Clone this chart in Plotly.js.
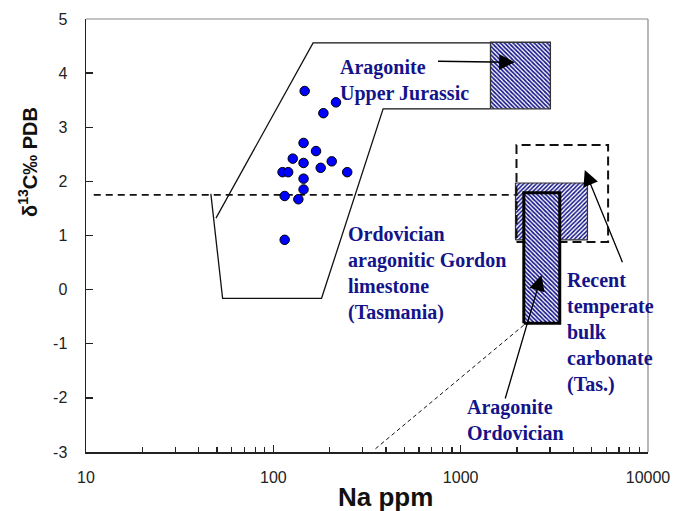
<!DOCTYPE html>
<html>
<head>
<meta charset="utf-8">
<script src="https://cdn.plot.ly/plotly-3.0.1.min.js"></script>
<style>html,body{margin:0;padding:0;background:#fff;}#chart{width:673px;height:511px;}</style>
</head>
<body>
<div id="chart"></div>
<script>
// Gordon limestone samples (Na ppm vs d13C)
const naPpm = [147, 216, 185, 145, 169, 127, 145, 205, 179, 112, 120, 248, 145, 145, 115, 136, 115];
const d13C  = [3.67, 3.46, 3.26, 2.71, 2.56, 2.42, 2.34, 2.37, 2.25, 2.17, 2.17, 2.17, 2.05, 1.85, 1.73, 1.67, 0.92];

// envelope of Ordovician aragonitic Gordon limestone
const envelopeX = [49.4, 163, 1443, null, 1443, 385.5, 180.9, 53.6, 46.4];
const envelopeY = [1.32, 4.56, 4.56, null, 3.34, 3.34, -0.16, -0.16, 1.77];

// horizontal reference line
const refLineX = [11, 1945];
const refLineY = [1.75, 1.75];

// Aragonite Upper Jurassic field
const jurassicX = [1443, 3013, 3013, 1443, 1443];
const jurassicY = [3.34, 3.34, 4.57, 4.57, 3.34];

// Recent temperate bulk carbonate: dashed range and hatched field
const recentRangeX = [1986, 6124, 6124, 1986, 1986];
const recentRangeY = [0.88, 0.88, 2.67, 2.67, 0.88];
const recentX = [1962, 4752, 4752, 1962, 1962];
const recentY = [0.92, 0.92, 1.97, 1.97, 0.92];

// Aragonite Ordovician field
const ordovicianX = [2173, 3380, 3380, 2173, 2173];
const ordovicianY = [-0.62, -0.62, 1.79, 1.79, -0.62];

// thin dashed trend line
const trendX = [351, 2199];
const trendY = [-2.94, -0.64];

// arrows (from -> to)
const arrowFromX = [743, 7358, 1720];
const arrowFromY = [4.22, 0.48, -2.04];
const arrowToX = [1945, 4596, 2700];
const arrowToY = [4.20, 2.21, 0.27];

// field labels
const labelText = [
  'Aragonite<br>Upper Jurassic',
  'Ordovician<br>aragonitic Gordon<br>limestone<br>(Tasmania)',
  'Recent<br>temperate<br>bulk<br>carbonate<br>(Tas.)',
  'Aragonite<br>Ordovician'
];
const labelX = [221, 243, 3595, 1052];
const labelY = [3.86, 0.29, -0.79, -2.40];

// axis ticks
const yTickVals = [-3, -2, -1, 0, 1, 2, 3, 4, 5];
const yTickText = ['-3', '-2', '-1', '0', '1', '2', '3', '4', '5'];

const navy = '#14148a';

const traces = [
  {x: envelopeX, y: envelopeY, mode: 'lines', line: {color: '#111', width: 1.3}, connectgaps: false, hoverinfo: 'skip'},
  {x: refLineX, y: refLineY, mode: 'lines', line: {color: '#111', width: 1.6, dash: '7px,5px'}, hoverinfo: 'skip'},
  {x: trendX, y: trendY, mode: 'lines', line: {color: '#111', width: 1, dash: '4px,3px'}, hoverinfo: 'skip'},
  {x: jurassicX, y: jurassicY, mode: 'lines', fill: 'toself', fillcolor: 'white',
   fillpattern: {shape: '\\', fgcolor: navy, bgcolor: 'white', size: 3, solidity: 0.55},
   line: {color: '#333', width: 1.3}, hoverinfo: 'skip'},
  {x: recentX, y: recentY, mode: 'lines', fill: 'toself', fillcolor: 'white',
   fillpattern: {shape: '/', fgcolor: navy, bgcolor: 'white', size: 3, solidity: 0.5},
   line: {color: '#333', width: 1.2}, hoverinfo: 'skip'},
  {x: recentRangeX, y: recentRangeY, mode: 'lines', line: {color: '#111', width: 2, dash: '9px,5px'}, hoverinfo: 'skip'},
  {x: ordovicianX, y: ordovicianY, mode: 'lines', fill: 'toself', fillcolor: 'white',
   fillpattern: {shape: '\\', fgcolor: navy, bgcolor: 'white', size: 3, solidity: 0.55},
   line: {color: '#000', width: 3}, hoverinfo: 'skip'},
  {x: naPpm, y: d13C, mode: 'markers', marker: {size: 9.5, color: '#0000ff', line: {color: '#000', width: 1}}}
];

const annotations = [];
for (let i = 0; i < arrowToX.length; i++) {
  annotations.push({
    x: Math.log10(arrowToX[i]), y: arrowToY[i], xref: 'x', yref: 'y',
    ax: Math.log10(arrowFromX[i]), ay: arrowFromY[i], axref: 'x', ayref: 'y',
    text: '', showarrow: true, arrowhead: 2, arrowsize: 2.4, arrowwidth: 1.3, arrowcolor: '#000', standoff: 0
  });
}
for (let i = 0; i < labelText.length; i++) {
  annotations.push({
    x: Math.log10(labelX[i]), y: labelY[i], xref: 'x', yref: 'y',
    text: labelText[i], showarrow: false, xanchor: 'left', yanchor: 'middle', align: 'left',
    font: {family: 'Liberation Serif, Times New Roman, serif', size: 20, color: navy, weight: 'bold'}
  });
}
annotations.push({
  x: -0.103, y: 0.67, xref: 'paper', yref: 'paper', textangle: -90, showarrow: false,
  text: '<b>δ<sup>13</sup>C‰ PDB</b>', xanchor: 'center', yanchor: 'middle',
  font: {family: 'Liberation Sans, Arial, sans-serif', size: 20, color: '#111'}
});
annotations.push({
  x: 0.533, y: -0.104, xref: 'paper', yref: 'paper', showarrow: false,
  text: '<b>Na ppm</b>', xanchor: 'center', yanchor: 'middle',
  font: {family: 'Liberation Sans, Arial, sans-serif', size: 26, color: '#111'}
});

const layout = {
  width: 673, height: 511,
  margin: {l: 86, r: 25, t: 19, b: 59, pad: 0},
  paper_bgcolor: 'white', plot_bgcolor: 'white',
  showlegend: false,
  font: {family: 'Liberation Sans, Arial, sans-serif', size: 16, color: '#222'},
  xaxis: {
    type: 'log', range: [1, 4], dtick: 1, tick0: 0, tickformat: 'd',
    ticks: 'inside', ticklen: 7, tickwidth: 1.3, tickcolor: '#222',
    minor: {dtick: 'D1', ticks: 'inside', ticklen: 5, tickwidth: 1.3, tickcolor: '#222', showgrid: false},
    showgrid: false, zeroline: false, showline: true, linecolor: '#222', linewidth: 1.5,
    ticklabelstandoff: 10
  },
  yaxis: {
    range: [-3, 5], tickmode: 'array', tickvals: yTickVals, ticktext: yTickText,
    ticks: 'inside', ticklen: 7, tickwidth: 1.3, tickcolor: '#222',
    showgrid: false, zeroline: false, showline: true, linecolor: '#222', linewidth: 1.5,
    ticklabelstandoff: 14
  },
  shapes: [
    {type: 'line', xref: 'paper', yref: 'paper', x0: 0, x1: 1, y0: 1, y1: 1, line: {color: '#888', width: 1}},
    {type: 'line', xref: 'paper', yref: 'paper', x0: 1, x1: 1, y0: 0, y1: 1, line: {color: '#888', width: 1.2}}
  ],
  annotations: annotations
};

Plotly.newPlot('chart', traces, layout, {staticPlot: true, displayModeBar: false});
</script>
</body>
</html>
